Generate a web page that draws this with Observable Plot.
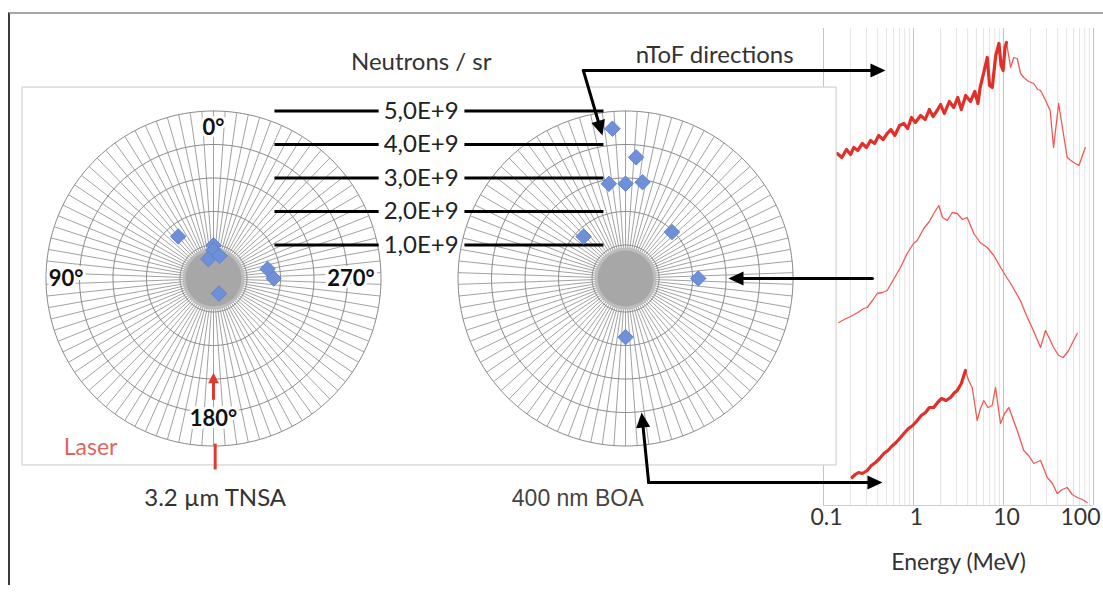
<!DOCTYPE html>
<html><head><meta charset="utf-8">
<script src="https://cdn.jsdelivr.net/npm/d3@7"></script>
<script src="https://cdn.jsdelivr.net/npm/@observablehq/plot@0.6"></script>
<style>
html,body{margin:0;padding:0;background:#fff;}
#fig{position:relative;width:1103px;height:592px;overflow:hidden;background:#fff;}
#frame{position:absolute;left:8px;top:12px;width:1095px;height:573px;border-top:2px solid #a6a6a6;border-left:2px solid #3a3a3a;box-sizing:border-box;}
#spec{position:absolute;left:780px;top:20px;}
#polar{position:absolute;left:0;top:0;}
</style></head><body>
<div id="fig"><div id="frame"></div><div id="spec"></div><div id="polar"></div></div>
<script>
// ---------------- DATA ----------------
// polar yield scale (neutrons / sr, in units of 1E9)
const ringValues = [1, 2, 3, 4, 5];
const ringLabels = ["1,0E+9", "2,0E+9", "3,0E+9", "4,0E+9", "5,0E+9"];
const angleLabelValues = [0, 90, 180, 270];
const angleLabelText = ["0°", "90°", "180°", "270°"];
const targetNames = ["3.2 µm TNSA", "400 nm BOA"];
// measured yields: angle (deg) and neutrons/sr (×1E9)
const tnsaAngles = [40, 0, 0, 15, 345, 280, 270, 200];
const tnsaYields = [1.64, 0.99, 0.84, 0.6, 0.7, 1.64, 1.8, 0.48];
const boaAngles = [5, 355, 10, 0, 350, 45, 315, 270, 180];
const boaYields = [4.49, 3.63, 2.87, 2.83, 2.92, 1.77, 1.96, 2.17, 1.75];
// nToF spectra (energy MeV, relative yield, arbitrary offset units)
const energyTicks = [0.1, 1, 10, 100];
const energyTickLabels = ["0.1", "1", "10", "100"];
const specTopE = [0.142,0.16,0.18,0.2,0.217,0.24,0.27,0.3,0.333,0.37,0.41,0.46,0.51,0.56,0.62,0.7,0.78,0.86,0.95,1.05,1.2,1.35,1.5,1.65,1.83,2.0,2.2,2.5,2.8,3.1,3.4,3.8,4.3,4.8,5.2,5.5,6.0,6.6,7.0,7.5,8.2,8.9,9.4,9.9,10.4,10.8,11.4,12,13,14.2,15.5,16.8,19,21.7,24,25.8,29,33,36,41,51,60,69,81];
const specTopY = [352,348,356,351,358,355,362,358,365,362,370,366,372,376,370,380,382,377,388,383,390,386,396,389,395,401,392,404,398,408,396,410,404,414,402,418,432,448,420,418,450,462,440,435,458,463,450,438,448,447,432,428,424,422,416,415,406,395,358,402,348,343,340,358];
const specMidE = [0.148,0.17,0.2,0.24,0.28,0.306,0.35,0.395,0.45,0.51,0.6,0.717,0.85,1.0,1.1,1.3,1.5,1.68,1.91,2.1,2.37,2.7,3.06,3.5,3.95,4.3,4.68,5.5,6.6,7.8,9.3,10.5,12,13.5,15.4,18,21.5,25.8,29.3,32,36,41,46,53,60,66];
const specMidY = [183,186,189,193,197,198,205,212,213,215,226,238,252,262,265,277,284,292,300,288,285,293,292,286,288,280,272,263,258,250,238,230,222,214,205,190,175,158,175,168,158,150,148,155,165,172];
const specBotE = [0.208,0.225,0.245,0.27,0.306,0.34,0.378,0.42,0.468,0.52,0.57,0.64,0.717,0.8,0.88,0.98,1.1,1.22,1.36,1.5,1.68,1.85,2.05,2.3,2.58,2.8,3.06,3.4,3.78,4.1,4.49,5.1,5.5,6.04,6.7,7.48,8.15,9.27,10.3,11.5,12.8,14.2,16.8,19,21.7,25.8,30.6,35,39.5,45,51,58,66,75,85];
const specBotY = [28,31,33,32,35,40,43,47,52,55,59,63,68,73,77,80,85,90,93,98,98,103,107,105,108,112,115,122,135,125,118,85,96,105,98,100,118,82,92,98,86,75,55,50,42,45,28,22,12,16,18,11,8,6,3];

// ---------------- LAYOUT ----------------
const PX = 33.5;              // pixels per 1E9 n/sr
const polarCenters = [0, 12.3];
const rad = Math.PI / 180;
const polar = (cx, a, r) => [cx - r * Math.sin(a * rad), r * Math.cos(a * rad)];
const FONT = "Lato, 'Open Sans', sans-serif";

const spokeData = polarCenters.flatMap(cx => d3.range(0, 360, 4).map(a => ({cx, a})));
const ringPts = polarCenters.flatMap(cx => ringValues.flatMap(v => d3.range(0, 361, 2).map(a => ({cx, v, a}))));
const ringRows = ringValues.map((v, i) => ({v, label: ringLabels[i]}));
const angleRows = angleLabelValues.map((a, i) => ({a, t: angleLabelText[i], r: [4.5, 4.4, 4.2, 4.1][i]}));
const tnsa = tnsaAngles.map((a, i) => ({cx: polarCenters[0], a, v: tnsaYields[i]}));
const boa = boaAngles.map((a, i) => ({cx: polarCenters[1], a, v: boaYields[i]}));
const pts = tnsa.concat(boa);

const arrowSegs = [
  {f: [11.04, 6.21], t: [20.06, 6.21]},
  {f: [11.04, 6.21], t: [11.61, 4.27]},
  {f: [19.67, 0], t: [15.37, 0]},
  {f: [12.99, -6.09], t: [12.78, -4.0]},
  {f: [12.99, -6.09], t: [19.97, -6.09]}
];
const laserSegs = [{f: [0, -3.62], t: [0, -2.81]}];
function heads(segs, L, hw) {
  return segs.flatMap((s, i) => {
    const dx = s.t[0] - s.f[0], dy = s.t[1] - s.f[1], n = Math.hypot(dx, dy);
    const ux = dx / n, uy = dy / n, px = -uy, py = ux;
    const bx = s.t[0] - L * ux, by = s.t[1] - L * uy;
    return [
      {id: i, x: s.t[0], y: s.t[1]},
      {id: i, x: bx + hw * px, y: by + hw * py},
      {id: i, x: bx - hw * px, y: by - hw * py}
    ];
  });
}
function shorten(segs, L) {
  return segs.map(s => {
    const dx = s.t[0] - s.f[0], dy = s.t[1] - s.f[1], n = Math.hypot(dx, dy);
    return {x1: s.f[0], y1: s.f[1], x2: s.t[0] - L * dx / n, y2: s.t[1] - L * dy / n};
  });
}

const gridColor = "#8a8a8a";
const main = Plot.plot({
  width: 1103, height: 592, margin: 0,
  x: {domain: [-213 / PX, 890 / PX], axis: null},
  y: {domain: [-314 / PX, 278 / PX], axis: null},
  style: {background: "transparent", fontFamily: FONT, overflow: "visible"},
  marks: [
    Plot.rect([{x1: -5.70, x2: 18.60, y1: -5.58, y2: 5.70}], {x1: "x1", x2: "x2", y1: "y1", y2: "y2", fill: "white", stroke: "#d2d2d2", strokeWidth: 1.2}),
    Plot.link(spokeData, {x1: d => d.cx, y1: d => 0, x2: d => polar(d.cx, d.a, 5)[0], y2: d => polar(d.cx, d.a, 5)[1], stroke: gridColor, strokeWidth: 0.8}),
    Plot.line(ringPts, {x: d => polar(d.cx, d.a, d.v)[0], y: d => polar(d.cx, d.a, d.v)[1], z: d => d.cx + "_" + d.v, stroke: gridColor, strokeWidth: 1}),
    Plot.dot(polarCenters, {x: d => d, y: d => 0, r: 31, fill: "#bdbdbd"}),
    Plot.dot(polarCenters, {x: d => d, y: d => 0, r: 28, fill: "#a7a7a7"}),
    // yield scale lines
    Plot.link(ringRows, {x1: d => 1.82, x2: d => 4.93, y1: d => d.v, y2: d => d.v, stroke: "black", strokeWidth: 3}),
    Plot.link(ringRows, {x1: d => 7.49, x2: d => 11.64, y1: d => d.v, y2: d => d.v, stroke: "black", strokeWidth: 3}),
    Plot.text(ringRows, {x: d => 6.2, y: d => d.v, text: "label", fontSize: 24, fill: "#222"}),
    // angle labels (left polar)
    Plot.text(angleRows, {x: d => polar(0, d.a, d.r)[0], y: d => polar(0, d.a, d.r)[1], text: "t", fontSize: 22, fontWeight: "bold", fill: "#111", stroke: "white", strokeWidth: 6, paintOrder: "stroke"}),
    // data markers
    Plot.dot(pts, {x: d => polar(d.cx, d.a, d.v)[0], y: d => polar(d.cx, d.a, d.v)[1], symbol: "square", rotate: 45, r: 6.2, fill: "#6e90d8", stroke: "#5a7cc8", strokeWidth: 0.8}),
    // laser
    Plot.link(shorten(laserSegs, 0.15), {x1: "x1", y1: "y1", x2: "x2", y2: "y2", stroke: "#e03a30", strokeWidth: 3}),
    Plot.line(heads(laserSegs, 0.32, 0.16), {x: "x", y: "y", z: "id", fill: "#e03a30", stroke: "none"}),
    Plot.link([{x1: 0.05, y1: -4.93, x2: 0.05, y2: -5.7}], {x1: "x1", y1: "y1", x2: "x2", y2: "y2", stroke: "#e03a30", strokeWidth: 3}),
    Plot.text(["Laser"], {x: d => -3.67, y: d => -5.04, text: d => d, fontSize: 23, fill: "#e06560"}),
    // nToF arrows
    Plot.link(shorten(arrowSegs, 0.2), {x1: "x1", y1: "y1", x2: "x2", y2: "y2", stroke: "black", strokeWidth: 3, strokeLinecap: "round"}),
    Plot.line(heads(arrowSegs, 0.45, 0.21), {x: "x", y: "y", z: "id", fill: "black", stroke: "none"}),
    // titles / captions
    Plot.text(["Neutrons / sr"], {x: d => 6.2, y: d => 6.45, text: d => d, fontSize: 24, fill: "#333"}),
    Plot.text(["nToF directions"], {x: d => 14.96, y: d => 6.65, text: d => d, fontSize: 24, fill: "#333"}),
    Plot.text([targetNames[0]], {x: d => 0.05, y: d => -6.57, text: d => d, fontSize: 24, fill: "#333"}),
    Plot.text([targetNames[1]], {x: d => 10.87, y: d => -6.57, text: d => d, fontSize: 23, fill: "#444", fontFamily: "'Liberation Sans', Arial, sans-serif"})
  ]
});
document.getElementById("polar").appendChild(main);

// ---------------- SPECTRA ----------------
const minorEnergyTicks = [0.1, 1, 10].flatMap(d => [2, 3, 4, 5, 6, 7, 8, 9].map(m => d * m));
const spectra = [
  {E: specTopE, Y: specTopY, thick: 10.8},
  {E: specMidE, Y: specMidY, thick: 0},
  {E: specBotE, Y: specBotY, thick: 3.9}
];
const specMarks = [];
spectra.forEach((s, k) => {
  const rows = s.E.map((e, i) => ({e, y: s.Y[i]}));
  specMarks.push(Plot.line(rows, {x: "e", y: "y", stroke: "#ef5a55", strokeWidth: 1.3}));
  const thick = rows.filter(d => d.e <= s.thick);
  if (thick.length) specMarks.push(Plot.line(thick, {x: "e", y: "y", stroke: "#e0302a", strokeWidth: 3.2}));
});
const tickLabel = d => energyTickLabels[energyTicks.indexOf(d)];
const spec = Plot.plot({
  width: 323, height: 572, marginLeft: 43, marginRight: 10, marginTop: 8, marginBottom: 87,
  style: {background: "transparent", fontFamily: FONT, fontSize: "23px", color: "#333", overflow: "visible"},
  x: {type: "log", domain: [0.1, 100], axis: null},
  y: {domain: [0, 477], axis: null},
  marks: [
    Plot.ruleX(minorEnergyTicks, {stroke: "#e4e4e4", strokeWidth: 1}),
    Plot.ruleX(energyTicks, {stroke: "#c4c4c4", strokeWidth: 1}),
    Plot.ruleY([0], {stroke: "#cfcfcf"}),
    ...specMarks,
    Plot.text(energyTicks.slice(0, 3), {x: d => d, text: tickLabel, frameAnchor: "bottom", dy: 19, dx: 3, fill: "#333", fontSize: 23}),
    Plot.text(energyTicks.slice(3), {x: d => d, text: tickLabel, frameAnchor: "bottom", dy: 19, dx: 7, textAnchor: "end", fill: "#333", fontSize: 23}),
    Plot.text(["Energy (MeV)"], {text: d => d, frameAnchor: "bottom", dy: 64, fill: "#333", fontSize: 23})
  ]
});
document.getElementById("spec").appendChild(spec);
</script></body></html>
